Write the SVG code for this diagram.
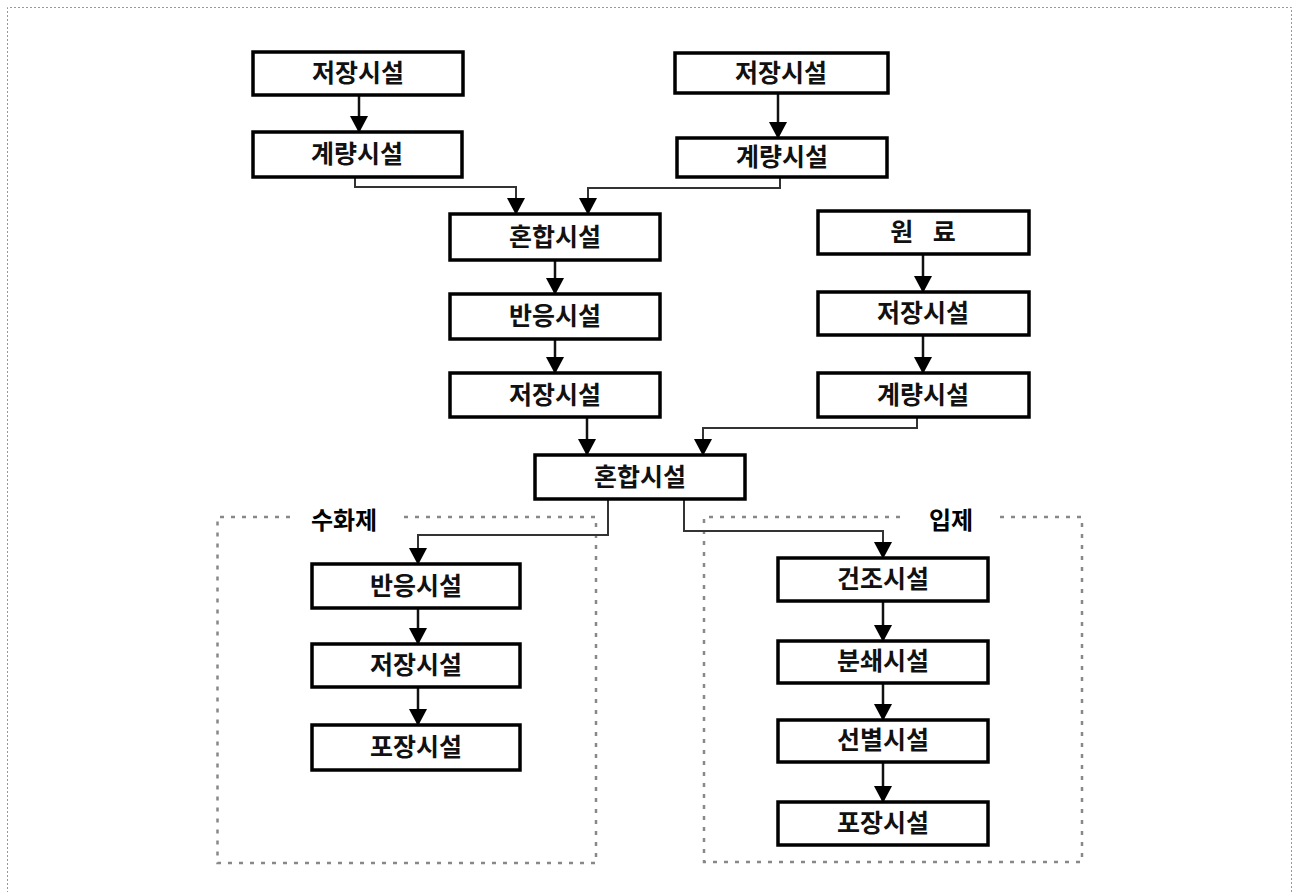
<svg xmlns="http://www.w3.org/2000/svg" width="1294" height="892" viewBox="0 0 1294 892">
<defs>
<style>
.box rect{fill:#fff;stroke:#000;stroke-width:3.5}
.box text,.lbl{font-family:"Noto Sans CJK KR","Noto Sans",sans-serif;font-weight:bold;font-size:25px;text-anchor:middle;fill:#111}
.lbl{font-size:24px;fill:#000}
.c{fill:none;stroke:#111;stroke-width:2.5;marker-end:url(#ah)}
.c2{fill:none;stroke:#333;stroke-width:2;marker-end:url(#ah)}
.sec{fill:none;stroke:#888;stroke-width:2.5;stroke-dasharray:4,7}
.outer{fill:none;stroke:#999;stroke-width:1;stroke-dasharray:2,2}
</style>
<marker id="ah" markerUnits="userSpaceOnUse" markerWidth="17" markerHeight="18" viewBox="0 0 17 18" refX="16" refY="9" orient="auto">
<path d="M0,0 L17,9 L0,18 Z" fill="#000"/>
</marker>
</defs>
<path class="outer" d="M7.5,893 V7.5 H1291.5 V893"/>
<g id="sections">
<path class="sec" d="M290,517 H217.5 V863 H596 V517 H400"/>
<text class="lbl" x="344" y="529">수화제</text>
<path class="sec" d="M900,517 H704 V862 H1082 V517 H1000"/>
<text class="lbl" x="951" y="529">입제</text>
</g>
<g id="connectors">
<path class="c" d="M359,95 V132"/>
<path class="c2" d="M355,177 V187 H516 V214"/>
<path class="c" d="M778,93 V138"/>
<path class="c2" d="M780,177 V188 H588 V214"/>
<path class="c" d="M555,260 V294"/>
<path class="c" d="M555,339 V373"/>
<path class="c" d="M587,417 V455"/>
<path class="c" d="M923,254 V292"/>
<path class="c" d="M923,335 V373"/>
<path class="c2" d="M917,417 V428 H703 V455"/>
<path class="c2" d="M608,499 V535 H418 V564"/>
<path class="c2" d="M684,499 V531 H883 V558"/>
<path class="c" d="M418,608 V644"/>
<path class="c" d="M418,687 V725"/>
<path class="c" d="M883,601 V641"/>
<path class="c" d="M883,683 V720"/>
<path class="c" d="M883,762 V802"/>
</g>
<g id="n1" class="box"><rect x="253" y="52" width="210" height="43"/><text x="358" y="82">저장시설</text></g>
<g id="n2" class="box"><rect x="253" y="132" width="209" height="45"/><text x="357" y="163">계량시설</text></g>
<g id="n3" class="box"><rect x="675" y="53" width="213" height="40"/><text x="781" y="82">저장시설</text></g>
<g id="n4" class="box"><rect x="677" y="138" width="210" height="39"/><text x="782" y="166">계량시설</text></g>
<g id="n5" class="box"><rect x="450" y="214" width="210" height="46"/><text x="555" y="246">혼합시설</text></g>
<g id="n6" class="box"><rect x="450" y="294" width="210" height="45"/><text x="555" y="325">반응시설</text></g>
<g id="n7" class="box"><rect x="450" y="373" width="210" height="44"/><text x="555" y="404">저장시설</text></g>
<g id="n8" class="box"><rect x="818" y="211" width="211" height="43"/><text x="923" y="241" word-spacing="14">원 료</text></g>
<g id="n9" class="box"><rect x="818" y="292" width="211" height="43"/><text x="923" y="322">저장시설</text></g>
<g id="n10" class="box"><rect x="818" y="373" width="211" height="44"/><text x="923" y="404">계량시설</text></g>
<g id="n11" class="box"><rect x="535" y="455" width="210" height="44"/><text x="640" y="486">혼합시설</text></g>
<g id="n12" class="box"><rect x="312" y="564" width="208" height="44"/><text x="416" y="595">반응시설</text></g>
<g id="n13" class="box"><rect x="312" y="644" width="208" height="43"/><text x="416" y="674">저장시설</text></g>
<g id="n14" class="box"><rect x="312" y="725" width="208" height="45"/><text x="416" y="756">포장시설</text></g>
<g id="n15" class="box"><rect x="778" y="558" width="210" height="43"/><text x="883" y="588">건조시설</text></g>
<g id="n16" class="box"><rect x="778" y="641" width="210" height="42"/><text x="883" y="670">분쇄시설</text></g>
<g id="n17" class="box"><rect x="778" y="720" width="210" height="42"/><text x="883" y="749">선별시설</text></g>
<g id="n18" class="box"><rect x="778" y="802" width="210" height="43"/><text x="883" y="832">포장시설</text></g>
</svg>
